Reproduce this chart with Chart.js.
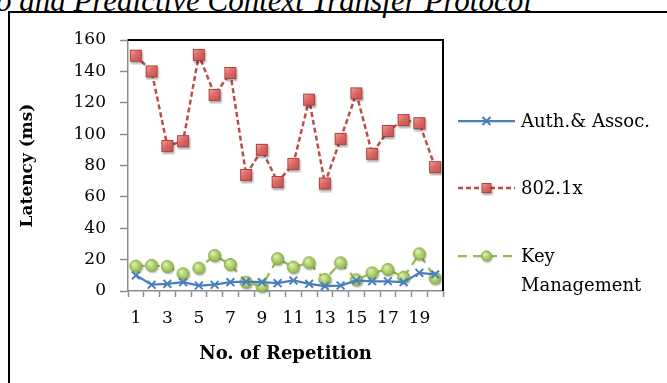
<!DOCTYPE html>
<html>
<head>
<meta charset="utf-8">
<script src="https://cdn.jsdelivr.net/npm/chart.js@4.4.0/dist/chart.umd.min.js"></script>
<style>
  html, body { margin: 0; padding: 0; background: #fff; }
  body { width: 667px; height: 383px; position: relative; overflow: hidden; }
  #caption {
    position: absolute; left: -4px; top: -15px;
    font: italic 31px "Liberation Serif", serif; line-height: 31px;
    white-space: nowrap; color: #000;
  }
  #frame { position: absolute; left: 8px; top: 11px; width: 720px; height: 420px; border: 2px solid #000; }
  #wrap { position: absolute; left: 0; top: 0; width: 667px; height: 383px; }
</style>
</head>
<body>
<div id="caption">o and Predictive Context Transfer Protocol</div>
<div id="frame"></div>
<div id="wrap"><canvas id="latencyChart" width="667" height="383"></canvas></div>
<script>
const repetitions = [1, 2, 3, 4, 5, 6, 7, 8, 9, 10, 11, 12, 13, 14, 15, 16, 17, 18, 19, 20];
const authAssoc = [10, 4, 4.6, 5.6, 3.5, 4, 5.6, 6, 5.6, 5, 6.7, 4.6, 3.1, 3.5, 6.7, 6.2, 6.2, 5.6, 11.6, 10.6];
const dot1x = [150, 140, 92.5, 95.5, 150.5, 125, 139, 74, 90, 69.5, 81, 122, 68.5, 97, 126, 87.5, 102, 109, 107, 79];
const keyMgmt = [15.8, 16.3, 15.6, 11, 14.6, 22.7, 16.9, 5.6, 3.1, 20.6, 15.2, 18, 7.3, 18, 7.1, 11.6, 13.7, 8.8, 23.7, 8.2];
const seriesNames = ["Auth.& Assoc.", "802.1x", "Key Management"];
const yMin = 0, yMax = 160, yStep = 20;

const serif = "'DejaVu Serif', serif";
const axisGray = "#8c8c8c";

// little bitmaps for the Excel-looking markers (gradient + shadow)
function squareMarker(size) {
  const pad = 3;
  const c = document.createElement("canvas");
  c.width = c.height = size + pad * 2;
  const g = c.getContext("2d");
  g.shadowColor = "rgba(0,0,0,0.35)";
  g.shadowBlur = 2;
  g.shadowOffsetX = 1;
  g.shadowOffsetY = 1.5;
  const grad = g.createLinearGradient(pad, pad, pad + size, pad + size);
  grad.addColorStop(0, "#f2a9a7");
  grad.addColorStop(0.45, "#dc6a66");
  grad.addColorStop(1, "#c0504d");
  g.fillStyle = grad;
  g.fillRect(pad, pad, size, size);
  g.shadowColor = "transparent";
  g.strokeStyle = "#b3403d";
  g.lineWidth = 1;
  g.strokeRect(pad + 0.5, pad + 0.5, size - 1, size - 1);
  return c;
}

function circleMarker(d) {
  const pad = 3;
  const c = document.createElement("canvas");
  c.width = c.height = d + pad * 2;
  const g = c.getContext("2d");
  const r = d / 2, cx = pad + r, cy = pad + r;
  g.shadowColor = "rgba(0,0,0,0.35)";
  g.shadowBlur = 2;
  g.shadowOffsetX = 1;
  g.shadowOffsetY = 1.5;
  const grad = g.createRadialGradient(cx - r * 0.3, cy - r * 0.35, 1, cx, cy, r);
  grad.addColorStop(0, "#d6ecaa");
  grad.addColorStop(0.6, "#a9cb62");
  grad.addColorStop(1, "#8fb24a");
  g.fillStyle = grad;
  g.beginPath();
  g.arc(cx, cy, r - 0.5, 0, Math.PI * 2);
  g.fill();
  g.shadowColor = "transparent";
  g.strokeStyle = "#86a84a";
  g.lineWidth = 1;
  g.stroke();
  return c;
}

const redSquare = squareMarker(12);
const greenDot = circleMarker(13);
const redSquareSmall = squareMarker(10);
const greenDotSmall = circleMarker(11);

// top + right edge of the plot are black in the original
const plotBorder = {
  id: "plotBorder",
  beforeDatasetsDraw(chart) {
    const { ctx, chartArea: a } = chart;
    ctx.save();
    ctx.strokeStyle = "#000";
    ctx.lineWidth = 2;
    ctx.beginPath();
    ctx.moveTo(a.left, a.top);
    ctx.lineTo(a.right, a.top);
    ctx.lineTo(a.right, a.bottom);
    ctx.stroke();
    ctx.restore();
  }
};

// legend on the right, with wrapping like Excel
const sideLegend = {
  id: "sideLegend",
  afterDraw(chart) {
    const ctx = chart.ctx;
    const rowsY = [121, 188, 256];
    const x0 = 458, x1 = 515, tx = 521, maxW = 140;
    ctx.save();
    ctx.font = "18px " + serif;
    ctx.textBaseline = "middle";
    chart.data.datasets.forEach((ds, i) => {
      const y = rowsY[i];
      ctx.strokeStyle = ds.borderColor;
      ctx.lineWidth = ds.borderWidth;
      ctx.setLineDash(ds.borderDash || []);
      ctx.beginPath();
      ctx.moveTo(x0, y);
      ctx.lineTo(x1, y);
      ctx.stroke();
      ctx.setLineDash([]);
      const mx = (x0 + x1) / 2;
      if (i === 0) {
        ctx.lineWidth = 2;
        ctx.beginPath();
        ctx.moveTo(mx - 4, y - 4); ctx.lineTo(mx + 4, y + 4);
        ctx.moveTo(mx + 4, y - 4); ctx.lineTo(mx - 4, y + 4);
        ctx.stroke();
      } else {
        const img = i === 1 ? redSquareSmall : greenDotSmall;
        ctx.drawImage(img, mx - img.width / 2, y - img.height / 2);
      }
      // word wrap
      const words = ds.label.split(" ");
      const lines = [];
      let cur = "";
      words.forEach(w => {
        const test = cur ? cur + " " + w : w;
        if (ctx.measureText(test).width > maxW && cur) { lines.push(cur); cur = w; }
        else cur = test;
      });
      lines.push(cur);
      ctx.fillStyle = "#000";
      lines.forEach((ln, k) => ctx.fillText(ln, tx, y + 1 + k * 29));
    });
    ctx.restore();
  }
};

new Chart(document.getElementById("latencyChart"), {
  type: "line",
  data: {
    labels: repetitions,
    datasets: [
      {
        label: seriesNames[0],
        data: authAssoc,
        borderColor: "#4a7ebb",
        backgroundColor: "#4a7ebb",
        borderWidth: 2.25,
        pointStyle: "crossRot",
        pointRadius: 5.5,
        pointBorderWidth: 2,
        pointBorderColor: "#4a7ebb",
        tension: 0,
        clip: false
      },
      {
        label: seriesNames[1],
        data: dot1x,
        borderColor: "#be4b48",
        backgroundColor: "#be4b48",
        borderWidth: 2.5,
        borderDash: [5, 3],
        pointStyle: redSquare,
        tension: 0,
        clip: false
      },
      {
        label: seriesNames[2],
        data: keyMgmt,
        borderColor: "#98b954",
        backgroundColor: "#98b954",
        borderWidth: 2.25,
        borderDash: [9, 6],
        pointStyle: greenDot,
        tension: 0,
        clip: false
      }
    ]
  },
  options: {
    responsive: false,
    animation: false,
    devicePixelRatio: 1,
    layout: { padding: { left: 10, top: 40, right: 224, bottom: 0 } },
    plugins: {
      legend: { display: false },
      tooltip: { enabled: false }
    },
    scales: {
      x: {
        offset: true,
        grid: { offset: true, drawOnChartArea: false, tickLength: 6, color: axisGray, tickWidth: 1.5 },
        border: { color: axisGray, width: 1.5 },
        ticks: {
          autoSkip: false,
          maxRotation: 0,
          padding: 11,
          color: "#000",
          font: { family: serif, size: 17 },
          callback: (v, i) => (i % 2 === 0 ? repetitions[i] : "")
        },
        title: {
          display: true,
          text: "No. of Repetition",
          color: "#000",
          font: { family: serif, size: 18, weight: "bold" },
          padding: { top: 0, bottom: 18 }
        },
        afterFit: s => { s.height = 92; }
      },
      y: {
        min: yMin,
        max: yMax,
        grid: { drawOnChartArea: false, tickLength: 8, color: axisGray, tickWidth: 1.5 },
        border: { color: axisGray, width: 1.5 },
        ticks: {
          stepSize: yStep,
          padding: 14,
          color: "#000",
          font: { family: serif, size: 17 }
        },
        title: {
          display: true,
          text: "Latency (ms)",
          color: "#000",
          font: { family: serif, size: 17, weight: "bold" },
          padding: { top: 7, bottom: 0 }
        },
        afterFit: s => { s.width = 118; }
      }
    }
  },
  plugins: [plotBorder, sideLegend]
});
</script>
</body>
</html>
